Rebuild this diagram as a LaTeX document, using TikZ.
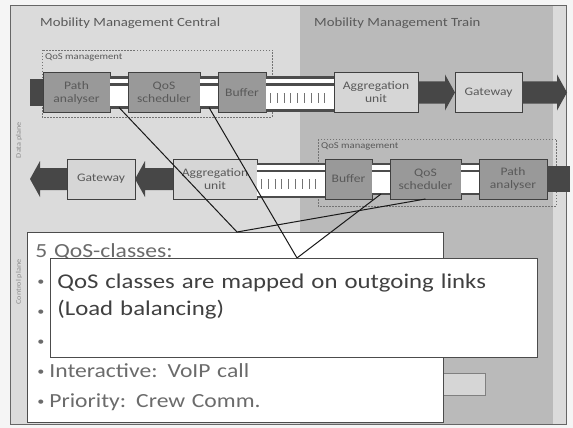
\documentclass[tikz,border=0pt]{standalone}
\usepackage{fontspec}
\setmainfont{Carlito}[FakeStretch=1.18]
\usepackage{tikz}
\usetikzlibrary{arrows}
\usetikzlibrary{calc}
\usetikzlibrary{positioning}
\definecolor{outsidecolour}{gray}{0.96}
\definecolor{centralcolour}{gray}{0.86}
\definecolor{traincolour}{gray}{0.73}
\definecolor{unitcolour}{gray}{0.6}
\definecolor{lightunitcolour}{gray}{0.84}
\definecolor{fatcolour}{gray}{0.28}
\definecolor{textcolour}{gray}{0.35}
\definecolor{classcolour}{gray}{0.42}
\newcommand\rowsize{\fontsize{11.5}{13}\selectfont}
\newcommand\linewd{.8pt}
\newcommand\shaft{11}
\newcommand\headwd{18}
\newcommand\headlen{10}
% fat arrows, from #1 to #2
\newcommand\fatright[2]{\fill[fatcolour] ($(#1)+(0,-\shaft)$) -- ($(#2)+(-\headlen,-\shaft)$)
  -- ($(#2)+(-\headlen,-\headwd)$) -- (#2) -- ($(#2)+(-\headlen,\headwd)$)
  -- ($(#2)+(-\headlen,\shaft)$) -- ($(#1)+(0,\shaft)$) -- cycle;}
\newcommand\fatleft[2]{\fill[fatcolour] ($(#1)+(0,-\shaft)$) -- ($(#2)+(\headlen,-\shaft)$)
  -- ($(#2)+(\headlen,-\headwd)$) -- (#2) -- ($(#2)+(\headlen,\headwd)$)
  -- ($(#2)+(\headlen,\shaft)$) -- ($(#1)+(0,\shaft)$) -- cycle;}
\newcommand\stub[2]{\fill[fatcolour] ($(#1)+(0,-13)$) rectangle ($(#2)+(0,13)$);}
% bundle of links between two units
\newcommand\tube[2]{
  \fill[white] ($(#1)+(0,-15)$) rectangle ($(#2)+(0,18)$);
  \draw[pipe] ($(#1)+(0,-15)$) -- ($(#2)+(0,-15)$);
  \draw[pipe] ($(#1)+(0,-8)$) -- ($(#2)+(0,-8)$);
  \draw[pipe] ($(#1)+(0,18)$) -- ($(#2)+(0,18)$);
  \draw[ticks] ($(#1)+(4,5)$) -- ($(#2)+(-4,5)$);
}
\newcommand\pipes[1]{
  \draw[pipe] (#1.north west) -- (#1.north east);
  \draw[pipe] ($(#1.north west)+(0,7)$) -- ($(#1.north east)+(0,7)$);
  \draw[pipe] (#1.south west) -- (#1.south east);
}
\newcommand\blt{\makebox[14pt][l]{\hspace{2pt}\raisebox{2pt}{\fontsize{12}{12}\selectfont\textbullet}}}
\tikzstyle{unit}      = [draw=black!75, line width=\linewd, minimum height=40pt, inner sep=0pt,
                         outer sep=0pt, align=center, font=\rowsize, text=textcolour]
\tikzstyle{darkunit}  = [unit, fill=unitcolour]
\tikzstyle{lightunit} = [unit, fill=lightunitcolour]
\tikzstyle{sq}        = [fill=white, minimum width=18pt, minimum height=30pt, inner sep=0pt, outer sep=0pt]
\tikzstyle{pipe}      = [line width=2.2pt, color=black!70]
\tikzstyle{ticks}     = [line width=10pt, color=black!55, dash pattern=on .8pt off 6pt]
\tikzstyle{mgmt}      = [draw=black!55, dash pattern=on 1.5pt off 1.5pt, line width=.6pt]
\tikzstyle{mgmtlabel} = [font=\fontsize{9}{10}\selectfont, text=textcolour, inner sep=1pt]
\tikzstyle{title}     = [font=\fontsize{12.5}{14}\selectfont, text=textcolour, inner sep=0pt]
\tikzstyle{plane}     = [font=\fontsize{7}{8}\selectfont, text=black!45, rotate=90, inner sep=0pt]
\tikzstyle{pointer}   = [line width=1pt, color=black!90]
\tikzstyle{classbox}  = [draw=black!70, fill=white, line width=.8pt, inner xsep=8pt, align=left,
                         text width=400pt, font=\fontsize{20}{30}\selectfont, text=classcolour]
\tikzstyle{mapbox}    = [draw=black!70, fill=white, line width=.8pt, inner xsep=7pt, align=left,
                         text width=473pt, font=\fontsize{21}{27}\selectfont, text=black!75]

\begin{document}
\begin{tikzpicture}[x=1pt,y=-1pt]
  \useasboundingbox (0,0) rectangle (573,428);
  \fill[outsidecolour] (0,0) rectangle (573,428);
  \fill[centralcolour] (10,5) rectangle (566,424);
  \fill[traincolour] (300,5) rectangle (553,424);
  \draw[black!60, line width=.8pt] (10,5) rectangle (566,424);
  % titles
  \node[title, anchor=west] (central) at (40,23) {Mobility Management Central};
  \node[title, anchor=west] (train) at (314,23) {Mobility Management Train};
  \node[plane] (dataplane) at (19,140) {Data plane};
  \node[plane] (ctrlplane) at (19,282) {Control plane};
  % qos management areas
  \draw[mgmt] (42,50) rectangle (272,117);
  \node[mgmtlabel, anchor=north west] (mgmtu) at (44,52) {QoS management};
  \draw[mgmt] (318,139) rectangle (556,206);
  \node[mgmtlabel, anchor=north west] (mgmtl) at (320,141) {QoS management};
  % upper row
  \node[darkunit, minimum width=67pt] (pathu) at (76.5,92.5) {Path\\analyser};
  \node[sq, right=0pt of pathu] (squa) {};
  \node[darkunit, minimum width=72pt, right=0pt of squa] (schedu) {QoS\\scheduler};
  \node[sq, right=0pt of schedu] (squb) {};
  \node[darkunit, minimum width=48pt, right=0pt of squb] (bufu) {Buffer};
  \node[lightunit, minimum width=84pt] (aggu) at (376,92.5) {Aggregation\\unit};
  \node[lightunit, minimum width=67pt] (gwu) at (488.5,92.5) {Gateway};
  \coordinate (inu) at (30,92.5);
  \coordinate (outu) at (567,92.5);
  \pipes{squa}
  \pipes{squb}
  \tube{bufu.east}{aggu.west}
  \stub{inu}{pathu.west}
  \fatright{aggu.east}{gwu.west}
  \fatright{gwu.east}{outu}
  % lower row
  \node[lightunit, minimum width=68pt] (gwl) at (101,179) {Gateway};
  \node[lightunit, minimum width=84pt] (aggl) at (215,179) {Aggregation\\unit};
  \node[darkunit, minimum width=47pt] (bufl) at (348.5,179) {Buffer};
  \node[sq, right=0pt of bufl] (sqla) {};
  \node[darkunit, minimum width=71pt, right=0pt of sqla] (schedl) {QoS\\scheduler};
  \node[sq, right=0pt of schedl] (sqlb) {};
  \node[darkunit, minimum width=68pt, right=0pt of sqlb] (pathl) {Path\\analyser};
  \coordinate (inl) at (570,179);
  \coordinate (outl) at (30,179);
  \pipes{sqla}
  \pipes{sqlb}
  \tube{aggl.east}{bufl.west}
  \stub{pathl.east}{inl}
  \fatleft{aggl.west}{gwl.east}
  \fatleft{gwl.west}{outl}
  % callouts
  \node[draw=black!50, fill=lightunitcolour, minimum width=55pt, minimum height=22pt,
        inner sep=0pt] (spare) at (457.5,384) {};
  \node[classbox, anchor=north west, minimum width=416pt, minimum height=190pt] (classes) at (27,232)
    {5 QoS-classes:\\ \blt\\ \blt\\ \blt\\ \blt Interactive: VoIP call\\ \blt Priority: Crew Comm.};
  \coordinate (tipa) at (237,232);
  \coordinate (tipb) at (297,258);
  \draw[pointer] (squa.south) -- (tipa) -- (schedl.south);
  \draw[pointer] (squb.south) -- (tipb) -- (sqla.south);
  \node[mapbox, anchor=north west, minimum width=487pt, minimum height=99pt] (mapping) at (50,258)
    {QoS classes are mapped on outgoing links\\(Load balancing)\\\mbox{}};
\end{tikzpicture}
\end{document}
